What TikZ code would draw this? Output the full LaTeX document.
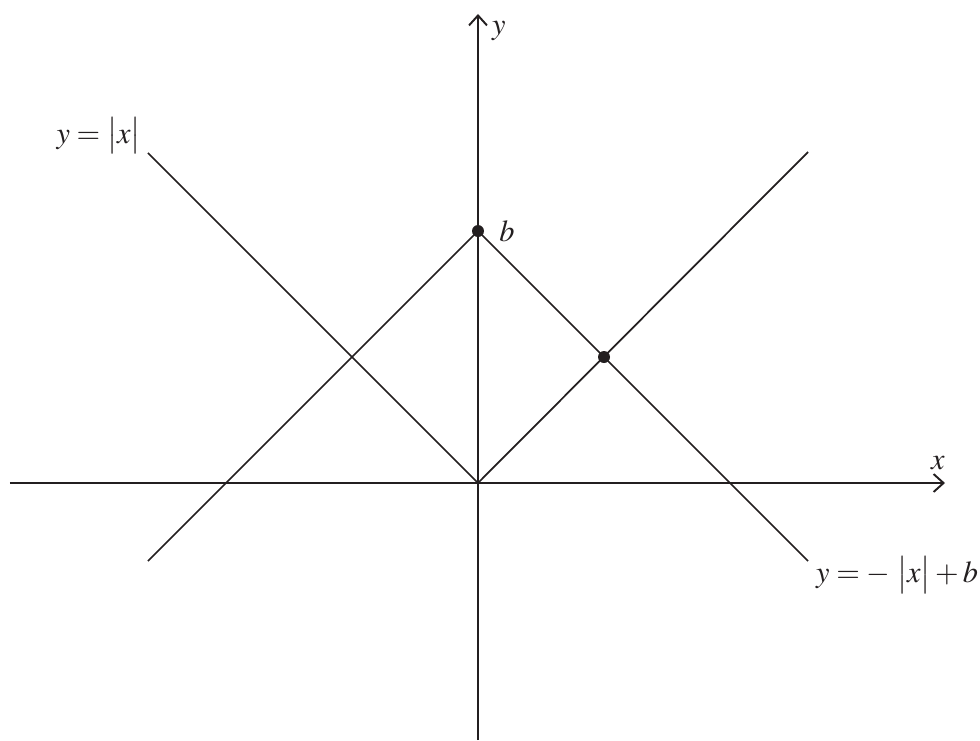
\documentclass[tikz,border=0pt]{standalone}
\usepackage{amsmath}
\usepackage{mathptmx}
\usepackage{tikz}
\usetikzlibrary{positioning, arrows.meta, calc}
\definecolor{plotInk}{HTML}{231F20}

\begin{document}
\begin{tikzpicture}[
        font=\LARGE,
        axis/.style={-{Straight Barb[length=2mm, width=3.6mm]}, line width=1.1pt, color=plotInk},
        graph/.style={line width=1pt, color=plotInk},
        pt/.style={circle, fill=plotInk, inner sep=0pt, minimum size=2.4mm},
        lbl/.style={text=plotInk, inner sep=1pt}
      ]
      \useasboundingbox (-9.56,-5.14) rectangle (10.04,9.66);

      % Ejes
      \coordinate (o) at (0,0);
      \coordinate (xl) at (-9.36,0);
      \coordinate (xr) at (9.34,0);
      \coordinate (yb) at (0,-5.14);
      \coordinate (yt) at (0,9.38);
      \draw[axis] (xl) -- (xr);
      \draw[axis] (yb) -- (yt);

      % Puntos
      \node[pt] (b) at (0,5.04) {};
      \node[pt] (cut) at (2.52,2.52) {};

      % Extremos de las rectas
      \coordinate (absL) at (-6.6,6.6);
      \coordinate (absR) at (6.6,6.62);
      \coordinate (negL) at (-6.6,-1.56);
      \coordinate (negR) at (6.6,-1.56);

      % y = |x|
      \draw[graph] (absL) -- (o) -- (absR);

      % y = -|x| + b
      \draw[graph] (negL) -- (b.center) -- (negR);

      % Etiquetas
      \node[lbl, anchor=south east] (labs) at ($(absL)+(-0.1,-0.06)$) {$y=\bigl\lvert x\bigr\rvert$};
      \node[lbl, anchor=west] (lneg) at ($(negR)+(0.12,-0.28)$) {$y=-\;\bigl\lvert x\bigr\rvert+b$};
      \node[lbl, right=0.26cm of b] (lb) {$b$};
      \node[lbl, anchor=north west] (ly) at ($(yt)+(0.24,-0.1)$) {$y$};
      \node[lbl, anchor=south] (lx) at ($(xr)+(-0.14,0.22)$) {$x$};

    \end{tikzpicture}
\end{document}
